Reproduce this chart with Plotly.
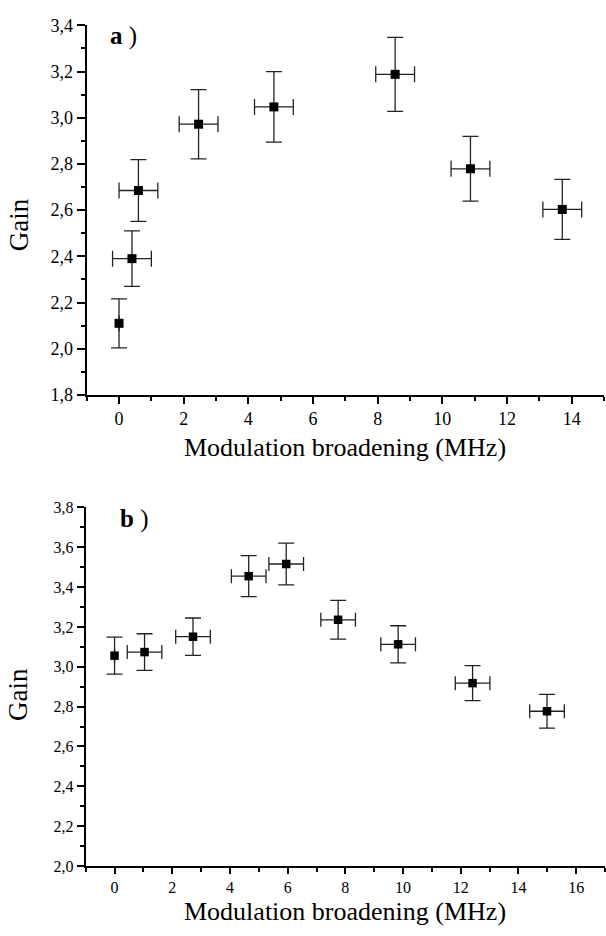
import plotly.graph_objects as go

# ---- data ----
top_x = [0, 0.4, 0.6, 2.46, 4.79, 8.54, 10.87, 13.71]
top_y = [2.11, 2.39, 2.685, 2.972, 3.047, 3.188, 2.779, 2.603]
top_xerr = [None, 0.6, 0.6, 0.6, 0.6, 0.6, 0.6, 0.6]
top_yerr = [0.106, 0.12, 0.134, 0.15, 0.153, 0.16, 0.14, 0.13]

bot_x = [0, 1.04, 2.72, 4.65, 5.95, 7.75, 9.83, 12.41, 14.99]
bot_y = [3.056, 3.074, 3.151, 3.455, 3.516, 3.236, 3.113, 2.918, 2.777]
bot_xerr = [None, 0.6, 0.6, 0.6, 0.6, 0.6, 0.6, 0.6, 0.6]
bot_yerr = [0.093, 0.092, 0.094, 0.103, 0.105, 0.097, 0.093, 0.088, 0.085]

x_title = "Modulation broadening (MHz)"
y_title = "Gain"
panel_labels = ["<b>a</b> )", "<b>b</b> )"]

W, H = 606, 936
FONT = "Liberation Serif"

fig = go.Figure()

err_style = dict(color="#222", thickness=1.3)

fig.add_trace(go.Scatter(
    x=top_x, y=top_y, mode="markers", xaxis="x", yaxis="y",
    marker=dict(symbol="square", size=9, color="black"),
    error_x=dict(type="data", array=top_xerr, visible=True, width=8, **err_style),
    error_y=dict(type="data", array=top_yerr, visible=True, width=8, **err_style),
    showlegend=False, cliponaxis=False,
))
fig.add_trace(go.Scatter(
    x=bot_x, y=bot_y, mode="markers", xaxis="x2", yaxis="y2",
    marker=dict(symbol="square", size=8.5, color="black"),
    error_x=dict(type="data", array=bot_xerr, visible=True, width=7, **err_style),
    error_y=dict(type="data", array=bot_yerr, visible=True, width=8, **err_style),
    showlegend=False, cliponaxis=False,
))

def px2x(p):
    return p / W

def px2y(p):
    return 1 - p / H

axis_common = dict(
    showline=True, linecolor="black", linewidth=2, mirror=False,
    showgrid=False, zeroline=False, ticks="outside", tickcolor="black",
    tickwidth=1.5, color="black",
)

fig.update_layout(
    width=W, height=H, autosize=False,
    margin=dict(l=0, r=0, t=0, b=0),
    paper_bgcolor="white", plot_bgcolor="white",
    separators=", ",
    font=dict(family=FONT, color="black"),
    xaxis=dict(domain=[px2x(86.7), px2x(604)], range=[-1, 15], dtick=2, tick0=0,
               ticklen=7, tickfont=dict(size=18, family=FONT, color="black"),
               minor=dict(dtick=1, tick0=0, ticks="outside", ticklen=4, tickcolor="black", tickwidth=1.5),
               anchor="y", **axis_common),
    yaxis=dict(domain=[px2y(393.3), px2y(15.7)], range=[1.8, 3.4], dtick=0.2, tick0=0,
               tickformat=".1f", ticklen=8, tickfont=dict(size=18, family=FONT, color="black"),
               minor=dict(dtick=0.1, tick0=0, ticks="outside", ticklen=4, tickcolor="black", tickwidth=1.5),
               anchor="x", **axis_common),
    xaxis2=dict(domain=[px2x(85.7), px2x(605)], range=[-1, 17], dtick=2, tick0=0,
                ticklen=6, tickfont=dict(size=16, family=FONT, color="black"),
                minor=dict(dtick=1, tick0=0, ticks="outside", ticklen=4, tickcolor="black", tickwidth=1.5),
                anchor="y2", **axis_common),
    yaxis2=dict(domain=[px2y(874.7), px2y(508.3)], range=[2.0, 3.8], dtick=0.2, tick0=0,
                tickformat=".1f", ticklen=7, tickfont=dict(size=16, family=FONT, color="black"),
                minor=dict(dtick=0.1, tick0=0, ticks="outside", ticklen=4, tickcolor="black", tickwidth=1.5),
                anchor="x2", **axis_common),
)

ann = []
# axis titles
ann.append(dict(text=x_title, x=px2x(345), y=px2y(447), xref="paper", yref="paper",
                xanchor="center", yanchor="middle", showarrow=False,
                font=dict(size=26, family=FONT, color="black")))
ann.append(dict(text=x_title, x=px2x(345), y=px2y(921), xref="paper", yref="paper",
                xanchor="center", yanchor="middle", showarrow=False,
                font=dict(size=26, family=FONT, color="black")))
ann.append(dict(text=y_title, x=px2x(19), y=px2y(220), xref="paper", yref="paper",
                xanchor="center", yanchor="middle", showarrow=False, textangle=-90,
                font=dict(size=27, family=FONT, color="black")))
ann.append(dict(text=y_title, x=px2x(18), y=px2y(700), xref="paper", yref="paper",
                xanchor="center", yanchor="middle", showarrow=False, textangle=-90,
                font=dict(size=27, family=FONT, color="black")))
# panel labels
ann.append(dict(text=panel_labels[0], x=px2x(108), y=px2y(27), xref="paper", yref="paper",
                xanchor="left", yanchor="middle", showarrow=False,
                font=dict(size=25, family=FONT, color="black")))
ann.append(dict(text=panel_labels[1], x=px2x(118), y=px2y(520), xref="paper", yref="paper",
                xanchor="left", yanchor="middle", showarrow=False,
                font=dict(size=25, family=FONT, color="black")))
fig.update_layout(annotations=ann)

fig.write_html("out.html")
